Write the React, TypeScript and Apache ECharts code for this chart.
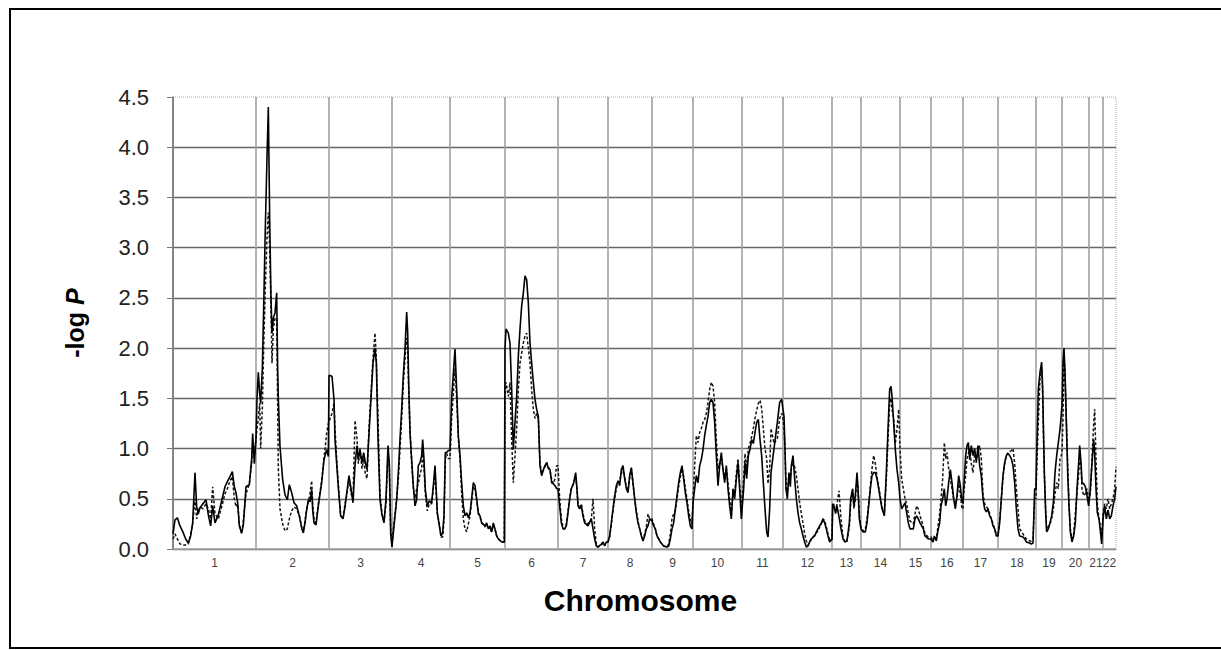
import React, { useEffect, useRef } from "react";
import * as echarts from "echarts";

// Chromosome labels and genetic-map lengths (cM)
const chromosomes = ["1","2","3","4","5","6","7","8","9","10","11","12","13","14","15","16","17","18","19","20","21","22"];
const chromLengthsCM = [249,219,189,174,165,159,150,132,123,147,123,147,87,117,93,96,105,114,78,81,42,39];
const yTickValues = [0, 0.5, 1, 1.5, 2, 2.5, 3, 3.5, 4, 4.5];

// [position within chromosome (cM), -log P solid, -log P dashed]
type Marker = [number, number, number];
const chr1: Marker[] = [[0,0.15,0.10],[6,0.29,0.15],[13,0.31,0.10],[21,0.23,0.05],[31,0.16,0.04],[38,0.10,0.04],[46,0.06,0.05],[53,0.13,0.15],[59,0.26,0.25],[66,0.76,0.50],[71,0.42,0.30],[76,0.35,0.38],[81,0.41,0.42],[90,0.45,0.40],[99,0.49,0.45],[106,0.34,0.40],[113,0.23,0.30],[119,0.43,0.62],[126,0.26,0.35],[136,0.34,0.30],[146,0.48,0.42],[156,0.62,0.55],[163,0.67,0.60],[171,0.72,0.68],[178,0.77,0.72],[184,0.62,0.50],[189,0.56,0.42],[194,0.46,0.45],[199,0.23,0.25],[206,0.16,0.15],[211,0.24,0.28],[219,0.62,0.55],[229,0.64,0.65],[236,0.90,0.85],[239,1.15,1.00],[244,0.85,0.95]];
const chr2: Marker[] = [[0,1.10,1.10],[3,1.50,1.20],[7,1.76,1.30],[11,1.55,1.45],[14,1.45,1.00],[19,1.80,1.40],[23,2.40,2.00],[28,3.20,2.60],[33,3.90,3.10],[37,4.40,3.35],[41,3.30,3.00],[45,2.50,2.40],[48,2.15,1.85],[52,2.30,2.20],[57,2.35,2.30],[62,2.55,2.30],[65,1.80,1.40],[67,1.50,0.80],[72,1.02,0.40],[80,0.69,0.25],[87,0.54,0.18],[94,0.49,0.20],[100,0.64,0.30],[107,0.56,0.38],[114,0.46,0.42],[122,0.43,0.40],[130,0.33,0.33],[137,0.21,0.22],[142,0.16,0.17],[147,0.26,0.28],[152,0.39,0.40],[157,0.49,0.47],[162,0.47,0.55],[167,0.59,0.68],[170,0.39,0.45],[174,0.26,0.30],[180,0.24,0.26],[187,0.43,0.45],[197,0.66,0.68],[204,0.89,0.90],[212,0.99,1.15],[217,0.92,1.25]];
const chr3: Marker[] = [[0,1.73,1.25],[9,1.72,1.35],[15,1.49,1.45],[18,1.09,1.20],[24,0.80,0.85],[29,0.57,0.60],[35,0.33,0.33],[42,0.30,0.30],[48,0.42,0.45],[54,0.58,0.55],[60,0.73,0.70],[66,0.60,0.55],[72,0.46,0.50],[78,0.83,1.28],[84,1.03,1.10],[88,0.89,0.85],[93,0.99,1.00],[99,0.86,0.80],[104,0.96,0.90],[109,0.86,0.75],[114,0.79,0.70],[120,1.15,1.20],[126,1.50,1.55],[132,1.85,1.90],[138,2.00,2.15],[142,1.85,1.90],[147,1.10,1.30],[153,0.49,0.55],[159,0.34,0.35],[165,0.26,0.28],[171,0.50,0.45],[177,1.03,0.95],[181,0.85,0.80],[185,0.15,0.20]];
const chr4: Marker[] = [[0,0.02,0.05],[4,0.16,0.20],[9,0.33,0.35],[14,0.49,0.50],[19,0.76,0.70],[24,1.09,1.00],[29,1.39,1.30],[34,1.73,1.65],[39,1.99,1.90],[44,2.36,2.10],[47,2.16,2.00],[50,1.66,1.60],[54,1.16,1.20],[59,0.89,0.85],[64,0.63,0.60],[69,0.43,0.50],[74,0.49,0.60],[79,0.83,0.65],[84,0.86,0.75],[89,0.93,0.80],[92,1.09,1.00],[96,0.89,0.80],[100,0.59,0.55],[106,0.43,0.38],[112,0.48,0.45],[119,0.46,0.45],[124,0.63,0.60],[129,0.83,0.75],[132,0.63,0.60],[136,0.36,0.35],[142,0.23,0.25],[147,0.13,0.12],[152,0.16,0.12],[156,0.33,0.30],[160,0.96,0.90],[164,0.96,0.95],[169,0.98,0.90]];
const chr5: Marker[] = [[0,0.98,0.90],[5,1.50,1.30],[15,1.99,1.80],[20,1.59,1.50],[25,1.13,1.10],[30,0.93,0.90],[35,0.66,0.55],[40,0.43,0.30],[45,0.33,0.20],[50,0.36,0.17],[55,0.31,0.25],[60,0.36,0.33],[65,0.50,0.48],[70,0.66,0.62],[75,0.63,0.60],[80,0.50,0.48],[85,0.36,0.35],[90,0.33,0.32],[95,0.26,0.26],[105,0.23,0.22],[110,0.26,0.25],[115,0.20,0.20],[120,0.23,0.22],[125,0.17,0.17],[130,0.26,0.24],[135,0.20,0.20],[140,0.13,0.13],[145,0.10,0.10],[155,0.07,0.07],[163,0.07,0.07]];
const chr6: Marker[] = [[0,2.00,1.50],[3,2.19,1.66],[10,2.15,1.52],[15,2.05,1.66],[20,1.59,1.09],[25,0.99,0.66],[30,1.26,0.93],[35,1.52,1.20],[40,1.92,1.59],[45,2.19,1.85],[50,2.42,1.95],[55,2.55,2.05],[60,2.72,2.12],[65,2.68,2.15],[70,2.45,2.00],[75,2.05,1.85],[80,1.85,1.59],[85,1.66,1.39],[90,1.49,1.30],[95,1.39,1.35],[100,1.32,1.30],[105,0.83,0.85],[110,0.73,0.75],[115,0.79,0.78],[120,0.83,0.82],[125,0.86,0.86],[130,0.80,0.82],[135,0.79,0.78],[140,0.66,0.70],[145,0.65,0.65],[150,0.63,0.70],[155,0.60,0.83]];
const chr7: Marker[] = [[0,0.60,0.83],[5,0.43,0.50],[10,0.26,0.30],[15,0.20,0.22],[20,0.20,0.20],[25,0.23,0.25],[30,0.36,0.38],[35,0.50,0.50],[40,0.60,0.60],[47,0.66,0.65],[53,0.76,0.72],[57,0.60,0.58],[60,0.43,0.45],[65,0.40,0.42],[70,0.43,0.45],[75,0.33,0.35],[80,0.26,0.28],[90,0.23,0.25],[100,0.30,0.30],[105,0.20,0.50],[110,0.10,0.20],[115,0.03,0.05],[120,0.02,0.02],[130,0.05,0.04],[135,0.07,0.06],[140,0.03,0.04],[145,0.07,0.07]];
const chr8: Marker[] = [[0,0.07,0.07],[5,0.13,0.12],[10,0.26,0.25],[15,0.40,0.38],[20,0.53,0.50],[25,0.63,0.60],[30,0.68,0.66],[35,0.63,0.68],[40,0.79,0.75],[45,0.83,0.80],[50,0.70,0.72],[55,0.60,0.62],[60,0.56,0.58],[65,0.73,0.70],[70,0.81,0.80],[75,0.66,0.65],[80,0.50,0.50],[85,0.36,0.38],[90,0.26,0.28],[95,0.20,0.20],[100,0.13,0.14],[105,0.08,0.10],[110,0.13,0.15],[115,0.20,0.22],[120,0.23,0.35],[125,0.30,0.30]];
const chr9: Marker[] = [[0,0.28,0.30],[5,0.23,0.25],[10,0.20,0.20],[15,0.13,0.13],[20,0.10,0.10],[25,0.07,0.07],[35,0.03,0.03],[45,0.02,0.02],[50,0.03,0.05],[55,0.10,0.15],[60,0.20,0.30],[65,0.26,0.35],[70,0.40,0.38],[75,0.53,0.50],[80,0.66,0.62],[85,0.76,0.72],[90,0.83,0.80],[95,0.70,0.72],[100,0.56,0.60],[105,0.46,0.50],[110,0.33,0.38],[115,0.23,0.30],[120,0.20,0.25]];
const chr10: Marker[] = [[0,0.46,0.50],[5,0.60,0.83],[10,0.73,1.13],[15,0.66,1.06],[20,0.83,1.16],[25,0.89,1.20],[30,0.99,1.26],[35,1.13,1.29],[40,1.23,1.35],[45,1.32,1.46],[50,1.46,1.59],[55,1.49,1.66],[60,1.46,1.62],[65,1.26,1.46],[70,0.93,1.09],[75,0.63,0.80],[80,0.83,0.85],[85,0.96,0.90],[90,0.79,0.80],[95,0.66,0.70],[100,0.83,0.80],[105,0.60,0.65],[110,0.43,0.50],[115,0.30,0.35],[120,0.60,0.55],[125,0.50,0.55],[130,0.70,0.75],[135,0.86,0.90],[140,0.60,0.65],[145,0.30,0.40]];
const chr11: Marker[] = [[0,0.30,0.40],[5,0.60,0.70],[9,0.86,0.95],[14,0.70,0.80],[19,0.93,1.00],[24,0.99,1.05],[29,1.09,1.12],[34,1.05,1.20],[39,1.16,1.30],[44,1.26,1.38],[49,1.29,1.45],[54,1.09,1.48],[59,0.93,1.40],[64,0.66,1.20],[69,0.40,1.00],[74,0.17,0.90],[78,0.12,0.65],[83,0.40,0.80],[87,0.76,1.20],[96,1.00,1.05],[106,1.26,1.10],[113,1.46,1.30],[119,1.49,1.35]];
const chr12: Marker[] = [[0,1.39,1.30],[3,1.32,1.20],[6,1.00,1.00],[9,0.60,0.60],[13,0.50,0.55],[18,0.76,0.75],[22,0.62,0.70],[25,0.83,0.80],[30,0.93,0.85],[35,0.70,0.82],[40,0.50,0.73],[45,0.36,0.60],[50,0.26,0.46],[55,0.20,0.35],[60,0.13,0.26],[65,0.07,0.15],[70,0.02,0.08],[75,0.03,0.04],[80,0.07,0.06],[85,0.10,0.10],[95,0.13,0.14],[100,0.17,0.16],[105,0.20,0.18],[110,0.23,0.22],[115,0.26,0.25],[120,0.30,0.30],[125,0.26,0.28],[130,0.20,0.22],[135,0.13,0.15],[140,0.07,0.08]];
const chr13: Marker[] = [[0,0.10,0.10],[2,0.45,0.40],[6,0.42,0.45],[11,0.36,0.35],[15,0.43,0.45],[21,0.32,0.58],[27,0.20,0.30],[33,0.10,0.12],[39,0.07,0.07],[45,0.08,0.08],[52,0.26,0.22],[56,0.50,0.45],[62,0.60,0.55],[66,0.43,0.40],[70,0.53,0.50],[75,0.76,0.70],[78,0.60,0.62],[82,0.30,0.35]];
const chr14: Marker[] = [[0,0.20,0.20],[6,0.17,0.18],[13,0.17,0.20],[18,0.26,0.30],[23,0.43,0.45],[28,0.60,0.62],[33,0.73,0.80],[38,0.76,0.93],[43,0.76,0.85],[48,0.70,0.72],[53,0.60,0.62],[58,0.50,0.52],[63,0.40,0.42],[70,0.33,0.35],[76,0.76,0.70],[81,1.19,1.10],[86,1.59,1.45],[90,1.62,1.50],[93,1.52,1.39],[98,1.26,1.30],[103,0.99,1.05],[108,0.79,1.20],[113,0.66,1.39]];
const chr15: Marker[] = [[0,0.50,1.00],[5,0.40,0.70],[10,0.43,0.60],[15,0.46,0.50],[20,0.36,0.45],[25,0.26,0.35],[30,0.20,0.28],[40,0.20,0.25],[45,0.30,0.35],[50,0.33,0.43],[55,0.30,0.40],[60,0.26,0.33],[65,0.23,0.28],[70,0.20,0.22],[75,0.13,0.15],[85,0.10,0.12]];
const chr16: Marker[] = [[0,0.10,0.12],[6,0.07,0.08],[10,0.13,0.12],[16,0.08,0.10],[20,0.17,0.20],[26,0.26,0.35],[30,0.43,0.50],[35,0.50,0.70],[40,0.60,1.06],[44,0.43,0.90],[48,0.50,0.96],[53,0.66,0.80],[58,0.79,0.70],[63,0.66,0.60],[68,0.50,0.50],[73,0.40,0.45],[78,0.53,0.50],[83,0.73,0.65],[88,0.63,0.55],[93,0.46,0.40]];
const chr17: Marker[] = [[0,0.46,0.40],[2,0.60,0.55],[8,0.93,0.73],[12,1.03,0.90],[16,1.06,0.95],[20,0.89,1.00],[25,1.03,0.85],[30,0.93,0.76],[35,1.00,0.95],[40,0.86,0.90],[45,1.03,0.95],[50,0.83,1.03],[55,0.72,0.90],[60,0.50,0.55],[65,0.40,0.45],[70,0.37,0.42],[75,0.40,0.40],[80,0.33,0.35],[85,0.30,0.30],[90,0.23,0.25],[95,0.20,0.20],[100,0.13,0.15]];
const chr18: Marker[] = [[0,0.13,0.15],[5,0.26,0.28],[10,0.50,0.50],[15,0.73,0.72],[20,0.86,0.85],[25,0.93,0.93],[30,0.95,0.96],[35,0.93,0.97],[40,0.90,0.98],[45,0.83,1.00],[50,0.66,0.85],[55,0.40,0.60],[60,0.20,0.40],[65,0.13,0.20],[75,0.12,0.15],[80,0.10,0.12],[85,0.07,0.10],[95,0.06,0.08],[100,0.05,0.08],[105,0.06,0.10],[110,0.60,0.50]];
const chr19: Marker[] = [[0,0.60,0.50],[2,0.93,0.80],[7,1.59,1.26],[12,1.76,1.70],[17,1.86,1.80],[20,1.60,1.55],[22,1.26,1.20],[25,0.76,0.75],[29,0.36,0.40],[32,0.17,0.20],[37,0.20,0.22],[42,0.26,0.25],[47,0.33,0.30],[52,0.46,0.40],[57,0.76,0.55],[62,0.93,0.66],[67,1.06,0.60],[72,1.19,0.90]];
const chr20: Marker[] = [[0,1.43,0.95],[3,1.86,1.30],[6,2.00,1.93],[9,1.76,1.75],[13,1.26,1.30],[17,0.76,0.85],[21,0.43,0.45],[25,0.17,0.20],[30,0.07,0.10],[35,0.13,0.15],[40,0.26,0.35],[45,0.60,0.55],[50,0.86,0.75],[53,1.03,0.90],[57,0.86,0.85],[60,0.66,0.60],[65,0.65,0.53],[70,0.62,0.55],[75,0.53,0.60],[80,0.43,0.50]];
const chr21: Marker[] = [[0,0.43,0.50],[4,0.60,0.55],[9,0.85,0.90],[14,1.09,1.25],[17,0.95,1.39],[21,0.60,0.90],[25,0.36,0.45],[30,0.30,0.30],[35,0.15,0.20],[38,0.05,0.10]];
const chr22: Marker[] = [[0,0.30,0.35],[5,0.43,0.45],[10,0.30,0.40],[15,0.39,0.50],[20,0.30,0.40],[25,0.33,0.45],[30,0.43,0.50],[35,0.50,0.60],[39,0.62,0.82]];
const markersByChromosome = [chr1,chr2,chr3,chr4,chr5,chr6,chr7,chr8,chr9,chr10,chr11,chr12,chr13,chr14,chr15,chr16,chr17,chr18,chr19,chr20,chr21,chr22];

const FONT = "'Liberation Sans', Arial, Helvetica, sans-serif";

export default function App() {
  const ref = useRef<HTMLDivElement>(null);
  useEffect(() => {
    if (!ref.current) return;
    const chart = echarts.init(ref.current, null, { renderer: "svg" });

    const starts: number[] = [];
    let acc = 0;
    chromLengthsCM.forEach((len) => { starts.push(acc); acc += len; });
    const total = acc;
    const boundaries = [...starts, total];
    const mids = starts.map((s, i) => s + chromLengthsCM[i] / 2);

    const solid: number[][] = [];
    const dashed: number[][] = [];
    markersByChromosome.forEach((markers, i) => {
      markers.forEach(([cm, s, d]) => {
        solid.push([starts[i] + cm, s]);
        dashed.push([starts[i] + cm, d]);
      });
    });

    const xSplitColors = boundaries.map((_, i) => (i === boundaries.length - 1 ? "rgba(0,0,0,0)" : "#a0a0a0"));
    const ySplitColors = yTickValues.map((_, i) => (i === yTickValues.length - 1 ? "rgba(0,0,0,0)" : "#666666"));

    chart.setOption({
      animation: false,
      backgroundColor: "#ffffff",
      grid: {
        left: 173, right: 105, top: 97, bottom: 101,
        show: true, borderColor: "#b0b0b0", borderWidth: 1, borderType: "dotted", backgroundColor: "transparent",
      },
      xAxis: {
        type: "value", min: 0, max: total,
        axisLine: { show: true, lineStyle: { color: "#a8a8a8", width: 1.5 } },
        axisTick: { show: false, customValues: boundaries },
        axisLabel: {
          customValues: mids,
          formatter: (v: number) => {
            const idx = mids.findIndex((m) => Math.abs(m - v) < 1e-6);
            return idx >= 0 ? chromosomes[idx] : "";
          },
          color: "#444", fontSize: 12, margin: 8, fontFamily: FONT,
        },
        splitLine: { show: true, lineStyle: { color: xSplitColors, width: 1.6 } },
        name: "Chromosome", nameLocation: "middle", nameGap: 36,
        nameTextStyle: { fontSize: 30, fontWeight: "bold", color: "#000", fontFamily: FONT, padding: [0, 8, 0, 0] },
      },
      yAxis: {
        type: "value", min: 0, max: 4.5, interval: 0.5,
        axisLine: { show: true, lineStyle: { color: "#777", width: 1.5 } },
        axisTick: { show: true, length: 6, lineStyle: { color: "#777" } },
        axisLabel: { formatter: (v: number) => v.toFixed(1), color: "#222", fontSize: 22, margin: 24, fontFamily: FONT },
        splitLine: { show: true, lineStyle: { color: ySplitColors, width: 1.4 } },
        name: "{a|-log }{b|P}", nameLocation: "middle", nameGap: 86, nameRotate: 90,
        nameTextStyle: {
          color: "#000",
          rich: {
            a: { fontSize: 25, fontWeight: "bold", fontFamily: FONT, color: "#000" },
            b: { fontSize: 25, fontWeight: "bold", fontStyle: "italic", fontFamily: FONT, color: "#000" },
          },
        },
      },
      series: [
        {
          name: "dashed", type: "line", data: dashed, showSymbol: false, symbol: "none", silent: true,
          lineStyle: { color: "#151515", width: 1.5, type: [3, 2] }, z: 3,
        },
        {
          name: "solid", type: "line", data: solid, showSymbol: false, symbol: "none", silent: true,
          lineStyle: { color: "#000", width: 1.6 }, z: 4,
        },
      ],
      graphic: [
        {
          type: "rect", silent: true,
          shape: { x: 10, y: 9, width: 1220, height: 639 },
          style: { fill: "none", stroke: "#000", lineWidth: 2 },
        },
      ],
    });
    return () => chart.dispose();
  }, []);
  return <div ref={ref} style={{ position: "fixed", left: 0, top: 0, width: 1221, height: 650, background: "#fff" }} />;
}
